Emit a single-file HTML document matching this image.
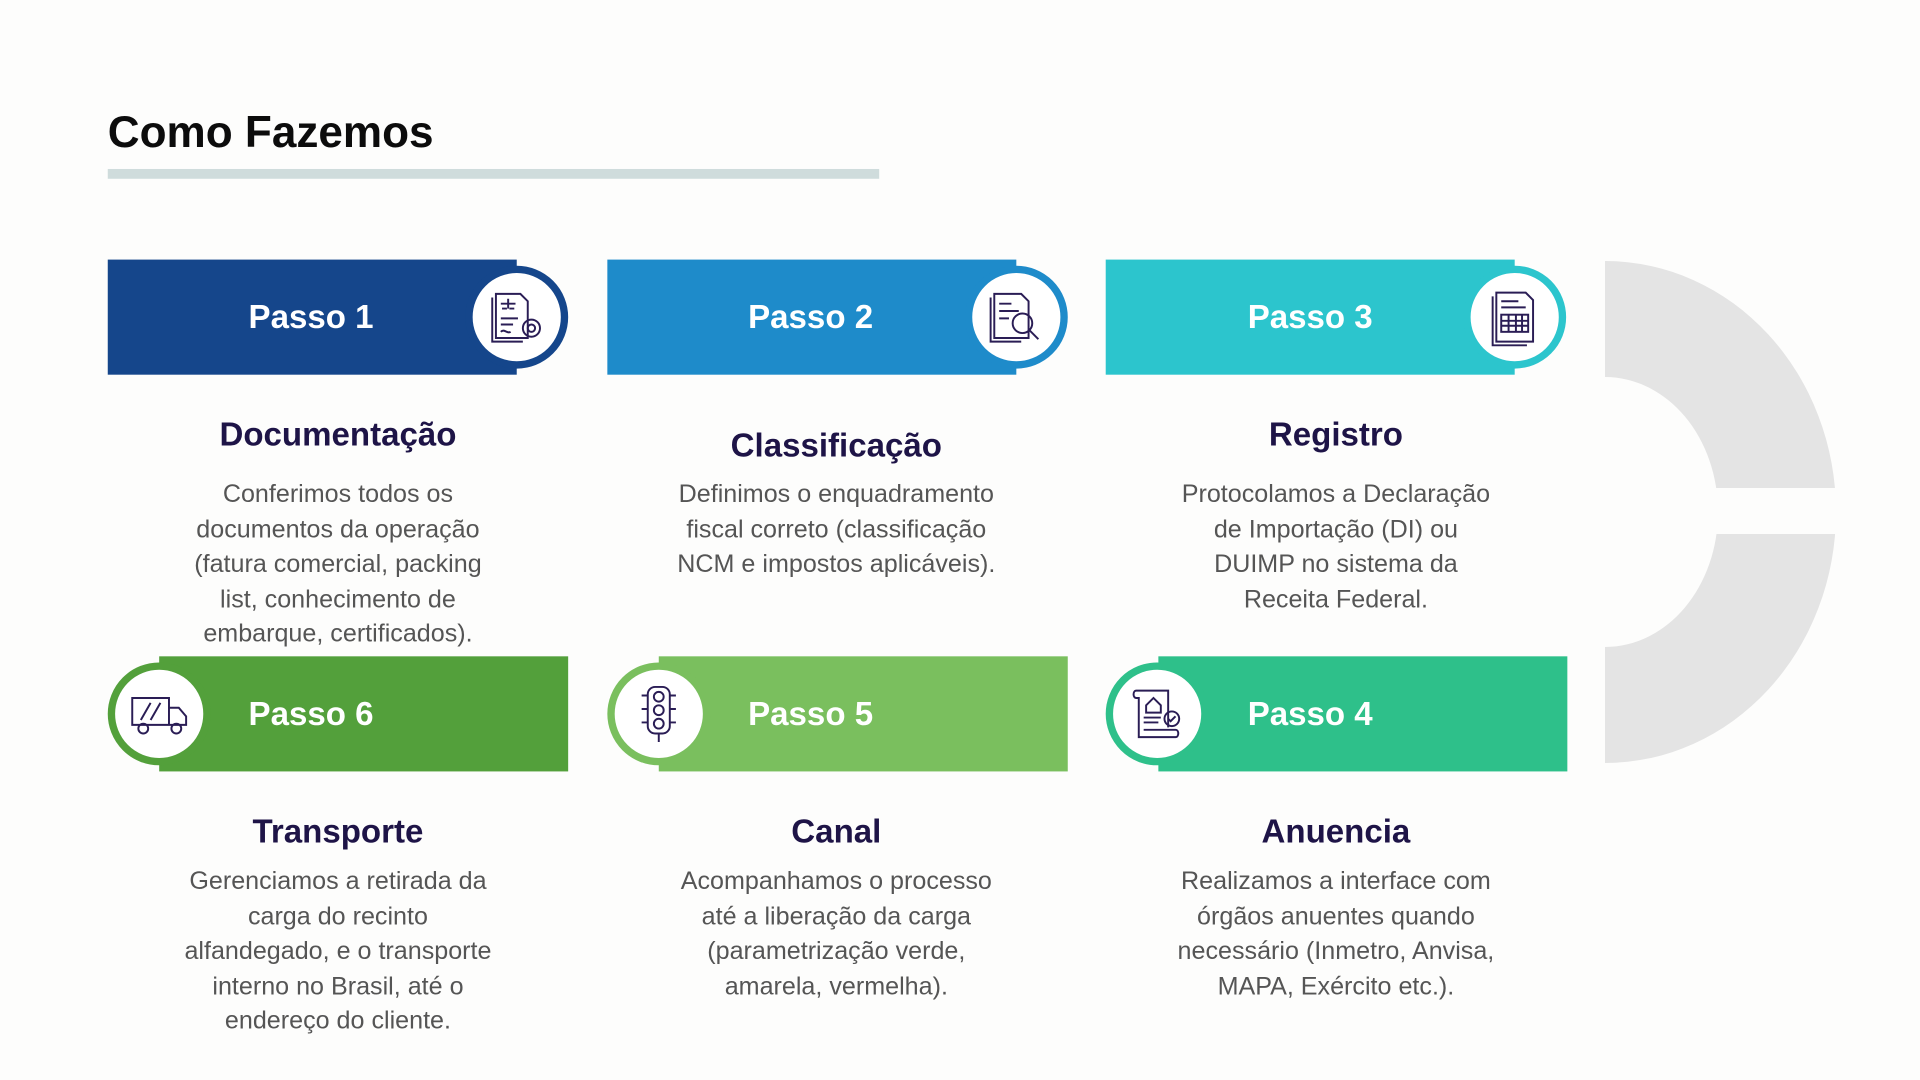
<!DOCTYPE html>
<html><head><meta charset="utf-8">
<style>
html,body{margin:0;padding:0;background:#fdfdfc;}
body{width:1920px;height:1080px;overflow:hidden;position:relative;font-family:"Liberation Sans",sans-serif;}
#c{position:absolute;left:0;top:0;width:1568px;height:882px;transform:scale(1.22449);transform-origin:0 0;}
.t{position:absolute;left:88px;top:87px;font-size:36px;font-weight:bold;color:#0c0c0c;}
.bar{position:absolute;left:88px;top:138px;width:630px;height:8px;background:#cfdcdc;}
.box{position:absolute;height:94px;width:334px;color:#fff;font-weight:bold;font-size:27px;line-height:94px;}
.box span{position:absolute;width:200px;text-align:center;}
.circ{position:absolute;width:84px;height:84px;border-radius:50%;box-sizing:border-box;background:#fff;}
.circ svg{position:absolute;left:11px;top:11px;width:50px;height:50px;}
.h{position:absolute;width:340px;text-align:center;font-size:27px;font-weight:bold;color:#1e1447;}
.p{position:absolute;width:340px;text-align:center;font-size:20.5px;line-height:28.6px;color:#555;}
</style></head><body>
<svg style="position:absolute;left:0;top:0" width="1920" height="1080">
<path d="M1605 261 A231 251 0 0 1 1605 763 L1605 647 A113 135 0 0 0 1605 377 Z" fill="#e4e4e4"/>
<rect x="1650" y="488" width="200" height="46" fill="#fdfdfc"/>
</svg>
<div id="c">
<div class="t">Como Fazemos</div>
<div class="bar"></div>

<div class="box" style="left:88px;top:212px;background:#15468b"><span style="left:66px">Passo 1</span></div>
<div class="circ" style="left:380px;top:217px;border:6px solid #15468b"><svg viewBox="0 0 50 50" fill="none" stroke="#2a1d55" stroke-width="1.6"><path d="M8 6h20l6 6v30H8z M5 9v36h25"/><path d="M12 14h12M18 10v8M13 18h4M19 18h4M12 26h14M12 31h10M12 37c3-3 5 2 8 0"/><circle cx="37" cy="34" r="7"/><circle cx="37" cy="34" r="3"/></svg></div>

<div class="box" style="left:496px;top:212px;background:#1e8bca"><span style="left:66px">Passo 2</span></div>
<div class="circ" style="left:788px;top:217px;border:6px solid #1e8bca"><svg viewBox="0 0 50 50" fill="none" stroke="#2a1d55" stroke-width="1.6"><path d="M7 6h22l6 6v30H7z M4 9v36h25"/><path d="M11 14h10M11 20h16M11 26h8"/><circle cx="30" cy="30" r="8"/><path d="M36 36l7 7"/></svg></div>

<div class="box" style="left:903px;top:212px;background:#2cc5cd"><span style="left:67px">Passo 3</span></div>
<div class="circ" style="left:1195px;top:217px;border:6px solid #2cc5cd"><svg viewBox="0 0 50 50" fill="none" stroke="#2a1d55" stroke-width="1.6"><path d="M10 5h24l6 6v34H10z M7 8v40h28"/><path d="M14 12h14M14 17h20"/><rect x="14" y="23" width="22" height="14"/><path d="M14 28h22M14 32h22M20 23v14M26 23v14M31 23v14"/></svg></div>

<div class="box" style="left:130px;top:536px;background:#53a03b"><span style="left:24px">Passo 6</span></div>
<div class="circ" style="left:88px;top:541px;border:6px solid #53a03b"><svg viewBox="0 0 50 50" fill="none" stroke="#2a1d55" stroke-width="1.6"><path d="M3 12h30v22H3z M33 20h8l6 7v7H33"/><path d="M10 30l8-14M18 30l8-14"/><circle cx="12" cy="37" r="4"/><circle cx="39" cy="37" r="4"/></svg></div>

<div class="box" style="left:538px;top:536px;background:#7abf5e"><span style="left:24px">Passo 5</span></div>
<div class="circ" style="left:496px;top:541px;border:6px solid #7abf5e"><svg viewBox="0 0 50 50" fill="none" stroke="#2a1d55" stroke-width="1.6"><rect x="16" y="3" width="18" height="38" rx="6"/><circle cx="25" cy="11" r="4"/><circle cx="25" cy="22" r="4"/><circle cx="25" cy="33" r="4"/><path d="M16 10h-5M16 21h-5M16 32h-5M34 10h5M34 21h5M34 32h5M25 41v7"/></svg></div>

<div class="box" style="left:946px;top:536px;background:#2ec08a"><span style="left:24px">Passo 4</span></div>
<div class="circ" style="left:903px;top:541px;border:6px solid #2ec08a"><svg viewBox="0 0 50 50" fill="none" stroke="#2a1d55" stroke-width="1.6"><path d="M8 6h26v30 M8 6c-3 0-3 6 0 6h2v32h30c3 0 3-6 0-6H14"/><path d="M16 18l6-6 6 6v6H16z"/><path d="M14 28h14M14 32h12"/><circle cx="37" cy="29" r="6"/><path d="M34 29l2 2 4-4"/></svg></div>

<div class="h" style="left:106px;top:340px">Documentação</div>
<div class="p" style="left:106px;top:390px">Conferimos todos os<br>documentos da operação<br>(fatura comercial, packing<br>list, conhecimento de<br>embarque, certificados).</div>
<div class="h" style="left:513px;top:349px">Classificação</div>
<div class="p" style="left:513px;top:390px">Definimos o enquadramento<br>fiscal correto (classificação<br>NCM e impostos aplicáveis).</div>
<div class="h" style="left:921px;top:340px">Registro</div>
<div class="p" style="left:921px;top:390px">Protocolamos a Declaração<br>de Importação (DI) ou<br>DUIMP no sistema da<br>Receita Federal.</div>

<div class="h" style="left:106px;top:664px">Transporte</div>
<div class="p" style="left:106px;top:706px">Gerenciamos a retirada da<br>carga do recinto<br>alfandegado, e o transporte<br>interno no Brasil, até o<br>endereço do cliente.</div>
<div class="h" style="left:513px;top:664px">Canal</div>
<div class="p" style="left:513px;top:706px">Acompanhamos o processo<br>até a liberação da carga<br>(parametrização verde,<br>amarela, vermelha).</div>
<div class="h" style="left:921px;top:664px">Anuencia</div>
<div class="p" style="left:921px;top:706px">Realizamos a interface com<br>órgãos anuentes quando<br>necessário (Inmetro, Anvisa,<br>MAPA, Exército etc.).</div>
</div>
</body></html>
